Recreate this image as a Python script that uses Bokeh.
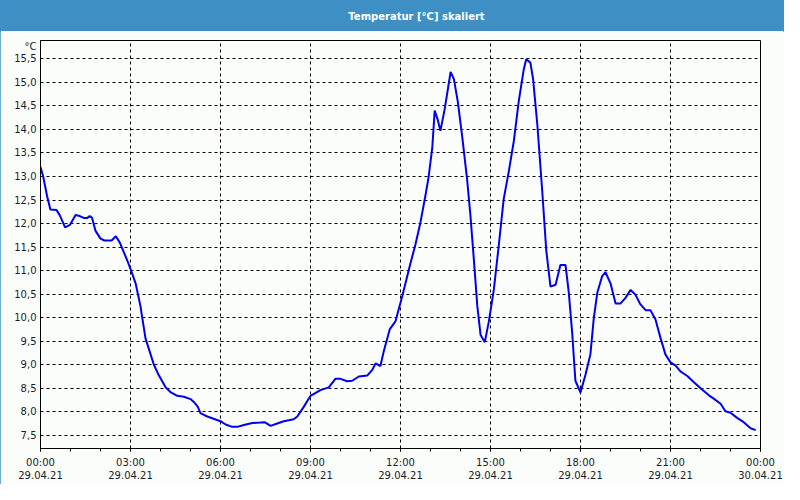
from bokeh.plotting import figure
from bokeh.layouts import column
from bokeh.models import FixedTicker, CustomJSTickFormatter, Range1d, Label
from bokeh.embed import file_html
from bokeh.resources import INLINE

# ---- data (hours since 29.04.21 00:00, temperature in °C) ----
hours = [0.00, 0.09, 0.22, 0.33, 0.53, 0.64, 0.82, 0.98, 1.17, 1.31, 1.44, 1.56, 1.64, 1.72,
         1.83, 2.00, 2.13, 2.37, 2.51, 2.64, 2.89, 3.02, 3.17, 3.33, 3.50, 3.78, 3.94, 4.17,
         4.33, 4.56, 4.78, 5.00, 5.11, 5.24, 5.33, 5.56, 6.00, 6.17, 6.39, 6.56, 6.78, 7.06,
         7.33, 7.47, 7.67, 7.89, 8.11, 8.44, 8.56, 8.78, 9.00, 9.33, 9.61, 9.83, 10.00, 10.22,
         10.39, 10.61, 10.89, 11.06, 11.17, 11.33, 11.44, 11.64, 11.83, 12.06, 12.33, 12.50,
         12.67, 12.83, 12.94, 13.06, 13.14, 13.24, 13.33, 13.47, 13.67, 13.78, 13.91, 14.06,
         14.22, 14.33, 14.44, 14.56, 14.67, 14.81, 14.94, 15.11, 15.28, 15.44, 15.61, 15.78,
         15.94, 16.11, 16.19, 16.33, 16.42, 16.56, 16.72, 16.86, 17.00, 17.17, 17.33, 17.50,
         17.61, 17.72, 17.83, 18.00, 18.17, 18.33, 18.44, 18.56, 18.72, 18.83, 19.00, 19.17,
         19.33, 19.50, 19.67, 19.83, 19.98, 20.17, 20.33, 20.50, 20.67, 20.83, 21.00, 21.17,
         21.33, 21.56, 21.78, 22.06, 22.28, 22.44, 22.67, 22.83, 23.00, 23.22, 23.44, 23.67,
         23.84]
temps = [13.20, 13.00, 12.58, 12.30, 12.29, 12.18, 11.92, 11.97, 12.18, 12.16, 12.12, 12.12, 12.16, 12.12,
         11.85, 11.68, 11.64, 11.64, 11.73, 11.60, 11.22, 11.00, 10.73, 10.25, 9.56, 9.00, 8.78, 8.52,
         8.42, 8.34, 8.32, 8.27, 8.21, 8.11, 7.97, 7.90, 7.80, 7.73, 7.68, 7.68, 7.72, 7.76,
         7.77, 7.78, 7.70, 7.75, 7.80, 7.84, 7.90, 8.11, 8.34, 8.46, 8.52, 8.70, 8.70, 8.65,
         8.66, 8.75, 8.77, 8.89, 9.03, 8.97, 9.28, 9.75, 9.92, 10.46, 11.15, 11.56,
         12.04, 12.59, 13.00, 13.62, 14.40, 14.21, 13.97, 14.42, 15.22, 15.07, 14.59, 13.83,
         12.94, 12.18, 11.28, 10.25, 9.63, 9.48, 9.90, 10.59, 11.56, 12.52, 13.11, 13.76,
         14.59, 15.28, 15.49, 15.42, 15.07, 14.11, 12.73, 11.42, 10.66, 10.70, 11.12, 11.12,
         10.53, 9.70, 8.66, 8.41, 8.80, 9.22, 9.97, 10.53, 10.88, 10.97, 10.73, 10.30,
         10.30, 10.42, 10.59, 10.49, 10.30, 10.16, 10.16, 9.96, 9.56, 9.22, 9.05, 8.98,
         8.86, 8.76, 8.63, 8.47, 8.35, 8.28, 8.17, 8.01, 7.98, 7.87, 7.78, 7.65,
         7.61]

x_ticks = [0, 3, 6, 9, 12, 15, 18, 21, 24]
x_tick_times = ["00:00", "03:00", "06:00", "09:00", "12:00", "15:00", "18:00", "21:00", "00:00"]
x_tick_dates = ["29.04.21"] * 8 + ["30.04.21"]
x_minor = list(range(0, 25))
y_ticks = [7.5, 8.0, 8.5, 9.0, 9.5, 10.0, 10.5, 11.0, 11.5, 12.0, 12.5, 13.0, 13.5, 14.0, 14.5, 15.0, 15.5]

title_text = "Temperatur [°C] skaliert"
unit_text = "°C"
unit_pos = 15.77   # where the unit label sits on the value axis

FONT = "DejaVu Sans"
BAR = "#3d8fc4"
BG = "#fbfdfb"
TXT = "#1c1c28"

W = 784
BAR_H = 31
H = 484 - BAR_H
ML, MR, MT, MB = 40, 24, 9, 36

# ---- title bar (same side borders as the chart, so frames line up) ----
tb = figure(width=W, height=BAR_H, output_backend="svg", toolbar_location=None,
            x_range=Range1d(ML, W - MR), y_range=Range1d(0, BAR_H),
            x_axis_location=None, y_axis_location=None,
            min_border_left=ML, min_border_right=MR, min_border_top=0, min_border_bottom=0,
            background_fill_color=BAR, border_fill_color=BAR,
            outline_line_color=BAR, outline_line_width=3)
tb.title.visible = False
tb.grid.visible = False
tb.add_layout(Label(x=416, y=BAR_H / 2, text=title_text, text_align="center",
                    text_baseline="middle", text_font=FONT, text_font_size="10px",
                    text_font_style="bold", text_color="white"))

# ---- chart ----
p = figure(width=W, height=H, output_backend="svg", toolbar_location=None,
           x_range=Range1d(0, 24), y_range=Range1d(7.22, 15.89),
           min_border_left=ML, min_border_right=MR, min_border_top=MT, min_border_bottom=MB,
           background_fill_color=BG, border_fill_color=BG)
p.title.visible = False
p.outline_line_color = "black"
p.outline_line_width = 1

p.line(hours, temps, line_color="#0000f0", line_width=2)

# x axis
xa = p.xaxis[0]
xa.ticker = FixedTicker(ticks=x_ticks, minor_ticks=x_minor)
xa.major_label_overrides = {t: f"{a}\n{b}" for t, a, b in zip(x_ticks, x_tick_times, x_tick_dates)}
xa.major_tick_in = 0
xa.major_tick_out = 3
xa.minor_tick_in = 0
xa.minor_tick_out = 3
xa.axis_line_color = "black"
xa.major_tick_line_color = "black"
xa.minor_tick_line_color = "black"
xa.major_label_text_font = FONT
xa.major_label_text_font_size = "10px"
xa.major_label_text_color = TXT
xa.major_label_standoff = 5

# y axis (value ticks plus the unit label on top)
ya = p.yaxis[0]
ya.ticker = FixedTicker(ticks=y_ticks + [unit_pos], minor_ticks=[])
ya.formatter = CustomJSTickFormatter(
    args=dict(unit=unit_text, upos=unit_pos),
    code="if (Math.abs(tick - upos) < 1e-6) { return unit; } return tick.toFixed(1).replace('.', ',');")
ya.major_tick_in = 0
ya.major_tick_out = 0
ya.minor_tick_in = 0
ya.minor_tick_out = 0
ya.axis_line_color = "black"
ya.major_label_text_font = FONT
ya.major_label_text_font_size = "10px"
ya.major_label_text_color = TXT
ya.major_label_standoff = 4

# grids
for g in (p.xgrid[0], p.ygrid[0]):
    g.grid_line_color = "black"
    g.grid_line_dash = "3 3"
    g.grid_line_width = 1
p.ygrid[0].ticker = FixedTicker(ticks=y_ticks)

layout = column(tb, p, spacing=0,
                styles={"outline": "1px solid " + BAR, "outline-offset": "-1px"})

open("out.html", "w").write(file_html(layout, INLINE))
